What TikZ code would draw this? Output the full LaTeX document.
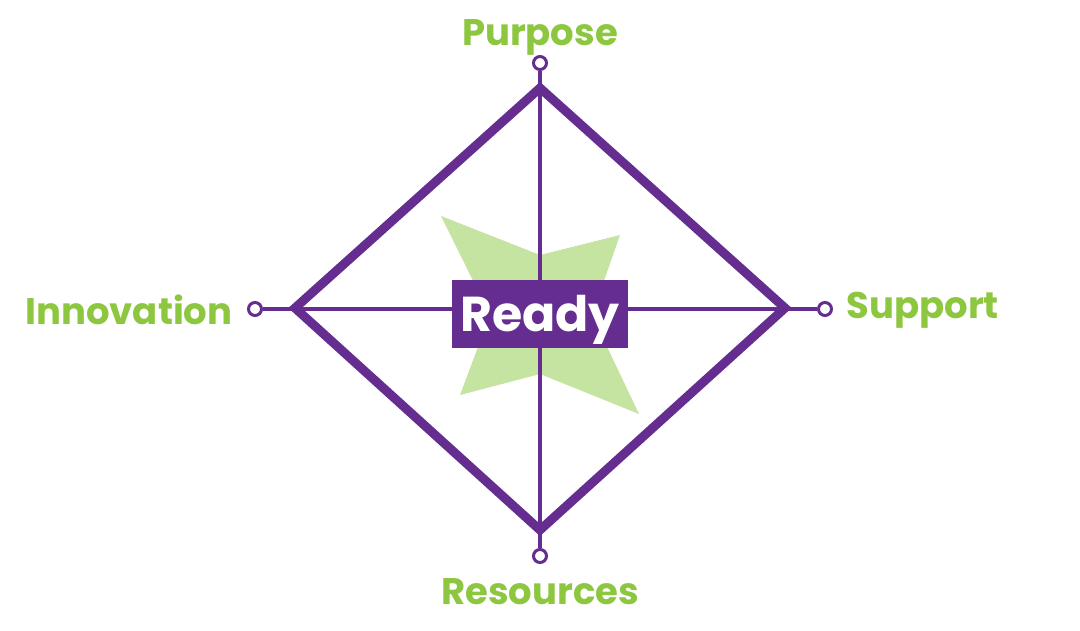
\documentclass[tikz,border=0pt]{standalone}
\usepackage{fontspec}
\setmainfont{Poppins}
\definecolor{pur}{HTML}{652D90}
\definecolor{grn}{HTML}{8DC63F}
\definecolor{lgrn}{HTML}{C5E3A1}
\begin{document}
\begin{tikzpicture}[x=1pt,y=-1pt,
  lab/.style={text=grn,font=\fontsize{37}{37}\selectfont\bfseries},
  dot/.style={circle,draw=pur,line width=3pt,fill=white,minimum size=13pt,inner sep=0pt}]
\useasboundingbox (0,0) rectangle (1080,630);
\fill[lgrn] (441,216) -- (540,255) -- (620,235) -- (592,315) -- (639,414) -- (540,374) -- (460,395) -- (490,315) -- cycle;
\node[dot] (dt) at (540,63) {};
\node[dot] (db) at (540,556) {};
\node[dot] (dl) at (255,309) {};
\node[dot] (dr) at (825,309) {};
\coordinate (t) at (540,88);
\coordinate (b) at (540,530);
\coordinate (l) at (295,308);
\coordinate (r) at (785,308);
\draw[pur,line width=4pt] (dt) -- (db);
\draw[pur,line width=4pt] (dl) -- (dr);
\draw[pur,line width=9pt,line join=miter] (t) -- (r) -- (b) -- (l) -- cycle;
\node[fill=pur,minimum width=176pt,minimum height=68pt] (ready) at (540,314) {};
\node[text=white,font=\fontsize{49}{49}\selectfont\bfseries] (rt) at (540,320) {Ready};
\node[lab] (p) at (540,37) {Purpose};
\node[lab] (rs) at (540,592) {Resources};
\node[lab,anchor=east] (i) at (236,310) {Innovation};
\node[lab,anchor=west] (s) at (843,310) {Support};
\end{tikzpicture}
\end{document}
